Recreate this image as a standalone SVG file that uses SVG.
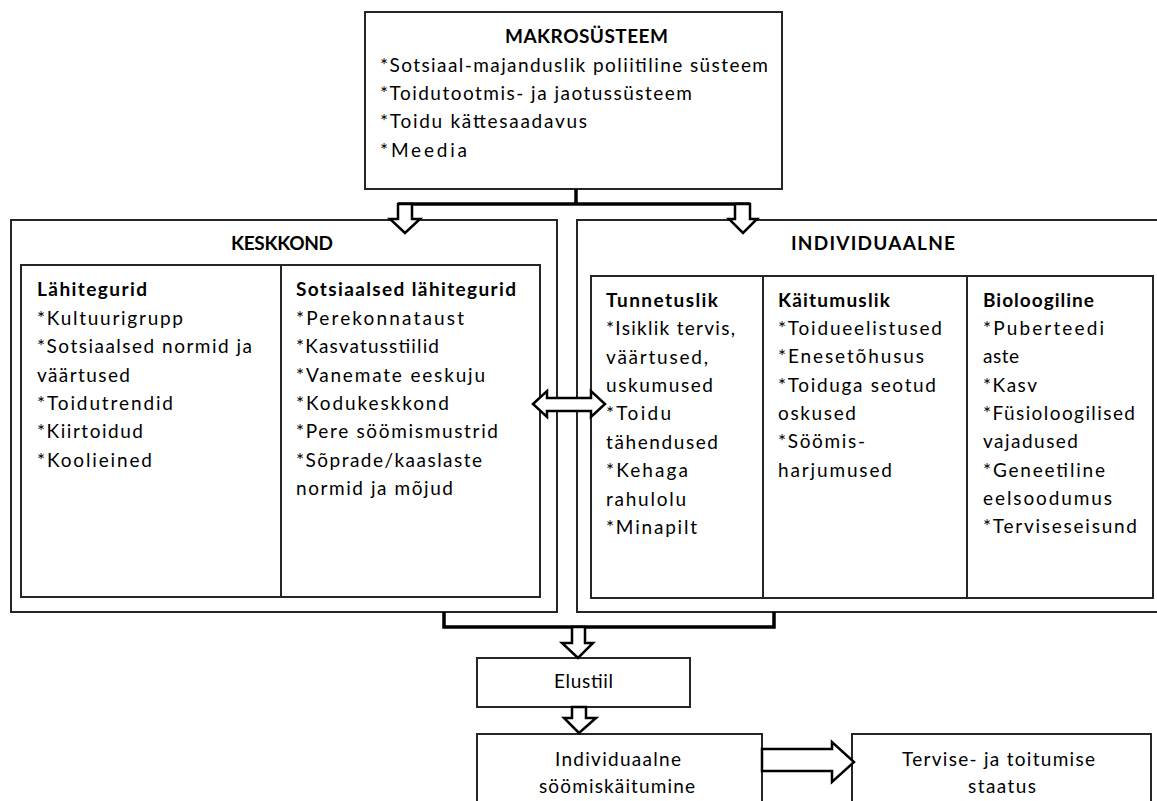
<svg xmlns="http://www.w3.org/2000/svg" width="1157" height="801" viewBox="0 0 1157 801">
<style>
.box{fill:#fff;stroke:#262626;stroke-width:2}
.ln{fill:none;stroke:#262626;stroke-width:2}
.br{fill:none;stroke:#000;stroke-width:3.5;stroke-linejoin:miter}
.ar{fill:#fff;stroke:#000;stroke-width:2.5;stroke-linejoin:miter}
text{font-family:Lato,"Liberation Sans",sans-serif;font-size:19px;fill:#000}
.b{font-weight:bold}
</style>
<rect width="1157" height="801" fill="#fff"/>
<g id="makro">
<rect class="box" x="365" y="12" width="417" height="177"/>
<text class="b" x="505" y="43" textLength="163">MAKROSÜSTEEM</text>
<text x="380" y="72" textLength="388">*Sotsiaal-majanduslik poliitiline süsteem</text>
<text x="380" y="100" textLength="312">*Toidutootmis- ja jaotussüsteem</text>
<text x="380" y="128" textLength="207">*Toidu kättesaadavus</text>
<text x="380" y="157" textLength="87">*Meedia</text>
</g>
<g id="keskkond">
<rect class="box" x="11" y="220" width="546" height="392"/>
<text class="b" x="231" y="250" textLength="102">KESKKOND</text>
<rect class="box" x="21" y="265" width="519" height="332"/>
<line class="ln" x1="281" y1="265" x2="281" y2="597"/>
<g id="lahitegurid">
<text class="b" x="37" y="296" textLength="110">Lähitegurid</text>
<text x="37" y="325" textLength="146">*Kultuurigrupp</text>
<text x="37" y="353" textLength="215">*Sotsiaalsed normid ja</text>
<text x="37" y="382" textLength="93">väärtused</text>
<text x="37" y="410" textLength="136">*Toidutrendid</text>
<text x="37" y="438" textLength="106">*Kiirtoidud</text>
<text x="37" y="467" textLength="115">*Koolieined</text>
</g>
<g id="sotsiaalsed">
<text class="b" x="296" y="296" textLength="220">Sotsiaalsed lähitegurid</text>
<text x="296" y="325" textLength="168">*Perekonnataust</text>
<text x="296" y="353" textLength="143">*Kasvatusstiilid</text>
<text x="296" y="382" textLength="189">*Vanemate eeskuju</text>
<text x="296" y="410" textLength="153">*Kodukeskkond</text>
<text x="296" y="438" textLength="202">*Pere söömismustrid</text>
<text x="296" y="467" textLength="186">*Sõprade/kaaslaste</text>
<text x="296" y="495" textLength="157">normid ja mõjud</text>
</g>
</g>
<g id="individuaalne">
<rect class="box" x="577" y="220" width="590" height="392"/>
<text class="b" x="791" y="250" textLength="164">INDIVIDUAALNE</text>
<rect class="box" x="591" y="276" width="562" height="322"/>
<line class="ln" x1="763" y1="276" x2="763" y2="598"/>
<line class="ln" x1="967" y1="276" x2="967" y2="598"/>
<g id="tunnetuslik">
<text class="b" x="606" y="307" textLength="112">Tunnetuslik</text>
<text x="606" y="335" textLength="129">*Isiklik tervis,</text>
<text x="606" y="364" textLength="102">väärtused,</text>
<text x="606" y="392" textLength="107">uskumused</text>
<text x="606" y="420" textLength="65">*Toidu</text>
<text x="606" y="449" textLength="112">tähendused</text>
<text x="606" y="477" textLength="82">*Kehaga</text>
<text x="606" y="506" textLength="80">rahulolu</text>
<text x="606" y="534" textLength="91">*Minapilt</text>
</g>
<g id="kaitumuslik">
<text class="b" x="778" y="307" textLength="112">Käitumuslik</text>
<text x="778" y="335" textLength="164">*Toidueelistused</text>
<text x="778" y="363" textLength="146">*Enesetõhusus</text>
<text x="778" y="392" textLength="158">*Toiduga seotud</text>
<text x="778" y="420" textLength="78">oskused</text>
<text x="778" y="448" textLength="87">*Söömis-</text>
<text x="778" y="477" textLength="114">harjumused</text>
</g>
<g id="bioloogiline">
<text class="b" x="983" y="307" textLength="111">Bioloogiline</text>
<text x="983" y="335" textLength="121">*Puberteedi</text>
<text x="983" y="363" textLength="36">aste</text>
<text x="983" y="392" textLength="54">*Kasv</text>
<text x="983" y="420" textLength="152">*Füsioloogilised</text>
<text x="983" y="448" textLength="95">vajadused</text>
<text x="983" y="477" textLength="122">*Geneetiline</text>
<text x="983" y="505" textLength="129">eelsoodumus</text>
<text x="983" y="533" textLength="154">*Terviseseisund</text>
</g>
</g>
<g id="elustiil">
<rect class="box" x="477" y="658" width="213" height="49"/>
<text x="554" y="688" textLength="59">Elustiil</text>
</g>
<g id="soomiskaitumine">
<rect class="box" x="477" y="734" width="285" height="80"/>
<text x="555" y="766" textLength="126">Individuaalne</text>
<text x="539" y="793" textLength="156">söömiskäitumine</text>
</g>
<g id="staatus">
<rect class="box" x="852" y="734" width="299" height="80"/>
<text x="902" y="766" textLength="193">Tervise- ja toitumise</text>
<text x="968" y="793" textLength="68">staatus</text>
</g>
<g id="connectors">
<polyline class="br" points="576,189 576,204"/>
<polyline class="br" points="398,204 750,204"/>
<polygon class="ar" points="398,204 412,204 412,219 420,219 405,233 390,219 398,219"/>
<polygon class="ar" points="735,204 750,204 750,219 757,219 743,233 729,219 735,219"/>
<polygon class="ar" points="533,404 547,391 547,398 591,398 591,391 605,404 591,417 591,411 547,411 547,417"/>
<polyline class="br" points="444,612 444,627 774,627 774,612"/>
<polygon class="ar" points="572,627 585,627 585,643 593,643 578,658 562,643 572,643"/>
<polygon class="ar" points="572,707 586,707 586,718 596,718 579,733 564,718 572,718"/>
<polygon class="ar" points="762,749 832,749 832,742 854,762 832,782 832,771 762,771"/>
</g>
</svg>
